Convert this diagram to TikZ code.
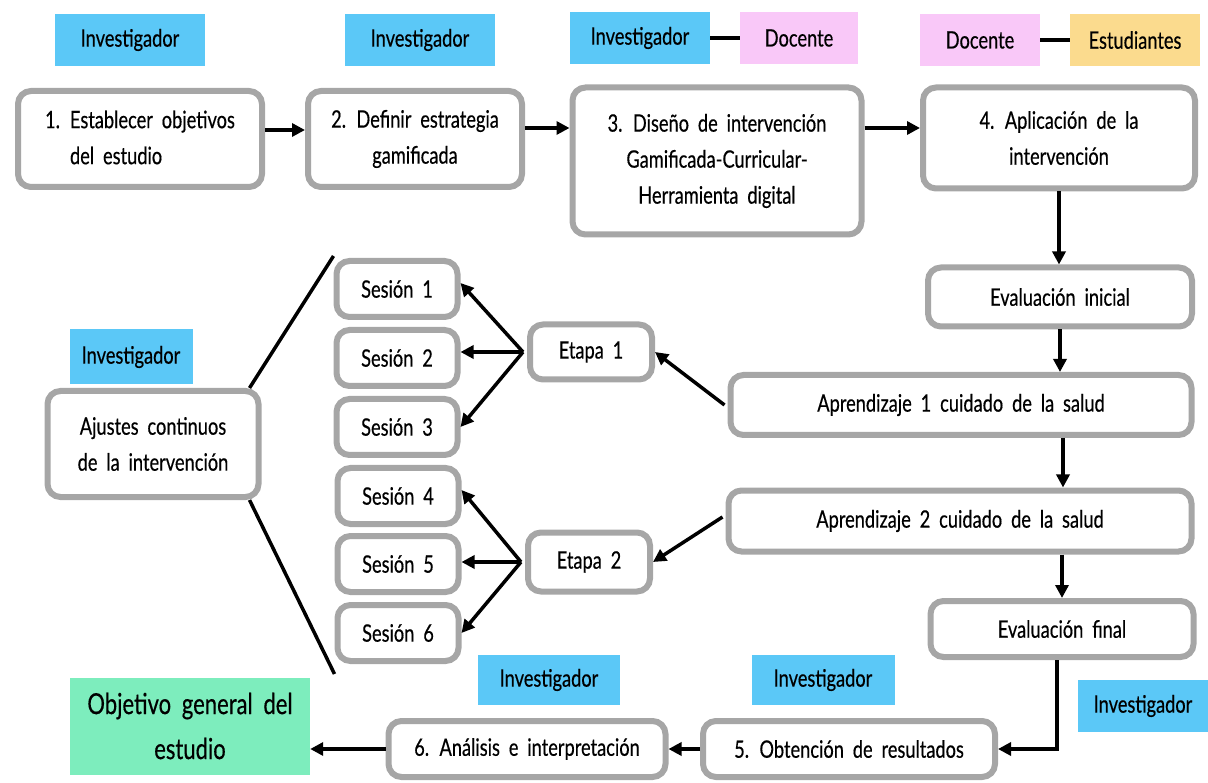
\documentclass[tikz,border=0pt]{standalone}
\usepackage{fontspec}
\setmainfont{Lato}[FakeStretch=0.76, WordSpace=1.9, FakeBold=0.4]
\usetikzlibrary{arrows.meta,backgrounds,calc}
\definecolor{labblue}{RGB}{91,200,247}
\definecolor{labpink}{RGB}{249,200,248}
\definecolor{labyellow}{RGB}{251,219,142}
\definecolor{objgreen}{RGB}{125,237,189}
\definecolor{boxgray}{RGB}{166,166,166}
\begin{document}
\begin{tikzpicture}[x=1pt,y=-1pt,
  box/.style={draw=boxgray, line width=6pt, rounded corners=13pt, fill=white, align=center, inner sep=0pt, font=\fontsize{24}{36}\selectfont},
  lab/.style={fill=#1, minimum height=52pt, inner sep=0pt, font=\fontsize{24}{30}\selectfont},
  arr/.style={line width=3.5pt, -{Triangle[length=13pt,width=13pt]}},
  ln/.style={line width=3.5pt}]
\useasboundingbox (0,0) rectangle (1208,783);

% role labels
\node[lab=labblue, minimum width=150pt] (L1) at (130,40) {Investigador};
\node[lab=labblue, minimum width=150pt] (L2) at (420,40) {Investigador};
\node[lab=labblue, minimum width=140pt] (L3) at (640,38) {Investigador};
\node[lab=labpink, minimum width=118pt] (D3) at (799,38) {Docente};
\node[lab=labpink, minimum width=120pt] (D4) at (980,40) {Docente};
\node[lab=labyellow, minimum width=130pt] (S4) at (1135,40) {Estudiantes};
\node[lab=labblue, minimum width=123pt, minimum height=55pt] (Laj) at (131,357) {Investigador};
\node[lab=labblue, minimum width=142pt, minimum height=50pt] (L6) at (549,680) {Investigador};
\node[lab=labblue, minimum width=143pt, minimum height=50pt] (L5) at (823,680) {Investigador};
\node[lab=labblue, minimum width=130pt] (Lr) at (1143,706) {Investigador};

% main boxes
\node[box, minimum width=244pt, minimum height=96pt] (b1) at (140,139)
  {\begin{tabular}{@{}l@{\hspace{10pt}}l@{}}1. & Establecer objetivos\\ & del estudio\end{tabular}};
\node[box, minimum width=214pt, minimum height=96pt] (b2) at (415,139) {2. Definir estrategia\\gamificada};
\node[box, minimum width=289pt, minimum height=147pt] (b3) at (717,161) {3. Diseño de intervención\\Gamificada-Curricular-\\Herramienta digital};
\node[box, minimum width=272pt, minimum height=101pt] (b4) at (1059,138) {4. Aplicación de la\\intervención};
\node[box, minimum width=264pt, minimum height=59pt] (ei) at (1060,297) {Evaluación inicial};
\node[box, minimum width=461pt, minimum height=60pt] (a1) at (961,405) {Aprendizaje 1 cuidado de la salud};
\node[box, minimum width=463pt, minimum height=61pt] (a2) at (960,521) {Aprendizaje 2 cuidado de la salud};
\node[box, minimum width=263pt, minimum height=56pt] (ef) at (1062,629) {Evaluación final};
\node[box, minimum width=292pt, minimum height=56pt] (b5) at (849,749) {5. Obtención de resultados};
\node[box, minimum width=277pt, minimum height=56pt] (b6) at (527,749) {6. Análisis e interpretación};
\node[fill=objgreen, minimum width=240pt, minimum height=97pt, inner sep=0pt, align=center, font=\fontsize{29}{45}\selectfont] (obj) at (190,726) {Objetivo general del\\estudio};

% left part
\node[box, minimum width=211pt, minimum height=106pt] (aj) at (153,444) {Ajustes continuos\\de la intervención};
\node[box, minimum width=121pt, minimum height=56pt] (s1) at (397,289) {Sesión 1};
\node[box, minimum width=121pt, minimum height=56pt] (s2) at (397,358) {Sesión 2};
\node[box, minimum width=121pt, minimum height=56pt] (s3) at (397,427) {Sesión 3};
\node[box, minimum width=121pt, minimum height=56pt] (s4) at (398,496) {Sesión 4};
\node[box, minimum width=121pt, minimum height=56pt] (s5) at (398,564) {Sesión 5};
\node[box, minimum width=121pt, minimum height=56pt] (s6) at (398,633) {Sesión 6};
\node[box, minimum width=122pt, minimum height=55pt] (e1) at (591,352) {Etapa 1};
\node[box, minimum width=122pt, minimum height=59pt] (e2) at (589,562) {Etapa 2};

% connectors
\draw[ln] (L3.east) -- (D3.west);
\draw[ln] (D4.east) -- (S4.west);
\draw[arr] (b1.east |- 0,130) -- (b2.west |- 0,130);
\draw[arr] (b2.east |- 0,128) -- (b3.west |- 0,128);
\draw[arr] (b3.east |- 0,128) -- (b4.west |- 0,128);
\draw[arr] (b4.south) -- (b4.south |- ei.north);
\draw[arr] (ei.south) -- (ei.south |- a1.north);
\draw[arr] ($(ei.south |- a1.south)+(3,0)$) -- ($(ei.south |- a2.north)+(3,0)$);
\draw[arr] (ef.north |- a2.south) -- (ef.north);
\draw[arr] ($(ef.south)+(-5,0)$) |- (b5.east);
\draw[arr] (b5.west) -- (b6.east);
\draw[arr] (b6.west) -- (b6.west -| obj.east);
\draw[arr] ($(a1.west)+(-3,0)$) -- (e1.east);
\draw[arr] ($(a2.west)+(-3,-4)$) -- (e2.east);
\coordinate (f1) at ($(e1.west)+(-4,0)$);
\coordinate (f2) at ($(e2.west)+(-4,0)$);
\draw[arr] (f1) -- ($(s1.east)+(0,-6)$);
\draw[arr] (f1) -- (f1 -| s2.east);
\draw[arr] (f1) -- (s3.east);
\draw[arr] (f2) -- ($(s4.east)+(0,-6)$);
\draw[arr] (f2) -- (f2 -| s5.east);
\draw[arr] (f2) -- (s6.east);
\begin{scope}[on background layer]
\draw[ln] ($(aj.north east)+(-12,0)$) -- ($(s1.north west)+(0,-2)$);
\draw[ln] ($(aj.south east)+(-12,0)$) -- ($(s6.south west)+(0,10)$);
\end{scope}
\end{tikzpicture}
\end{document}
